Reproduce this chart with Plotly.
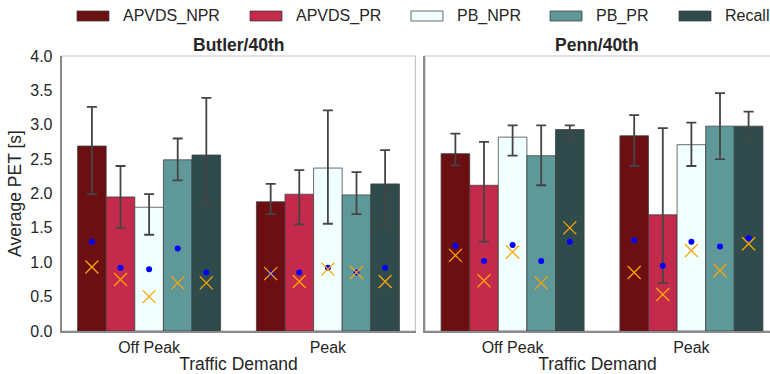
import plotly.graph_objects as go
import numpy as np

# ---------------- data ----------------
categories = ["Off Peak", "Peak"]
series = ["APVDS_NPR", "APVDS_PR", "PB_NPR", "PB_PR", "Recall"]
panels = ["Butler/40th", "Penn/40th"]

# Butler/40th  (rows: series, cols: categories)
butler_mean = [[2.69, 1.88], [1.95, 1.99], [1.80, 2.37], [2.49, 1.98], [2.56, 2.14]]
butler_hi = [[3.26, 2.14], [2.40, 2.34], [1.99, 3.21], [2.80, 2.31], [3.39, 2.63]]
butler_lo = [[1.99, 1.70], [1.50, 1.55], [1.40, 1.56], [2.19, 1.70], [1.86, 1.55]]
butler_dot = [[1.30, 0.835], [0.92, 0.85], [0.90, 0.92], [1.20, 0.85], [0.85, 0.92]]
butler_x = [[0.93, 0.835], [0.75, 0.72], [0.50, 0.90], [0.70, 0.85], [0.70, 0.72]]

# Penn/40th
penn_mean = [[2.58, 2.84], [2.12, 1.69], [2.82, 2.71], [2.55, 2.98], [2.93, 2.98]]
penn_hi = [[2.87, 3.14], [2.75, 2.95], [2.99, 3.03], [2.99, 3.46], [2.99, 3.19]]
penn_lo = [[2.41, 2.40], [1.30, 0.70], [2.55, 2.40], [2.12, 2.50], [2.79, 2.79]]
penn_dot = [[1.24, 1.32], [1.02, 0.95], [1.25, 1.30], [1.02, 1.23], [1.30, 1.35]]
penn_x = [[1.10, 0.85], [0.73, 0.53], [1.15, 1.17], [0.70, 0.88], [1.50, 1.27]]

y_ticks = [0.0, 0.5, 1.0, 1.5, 2.0, 2.5, 3.0, 3.5, 4.0]

# ---------------- styles ----------------
colors = ["#6C0F12", "#C42A4B", "#F0FFFF", "#5F9898", "#304B4B"]
TXT = "#262626"
FONT = "Liberation Sans, Arial, sans-serif"
W, H = 770, 374

def px_x(p):
    return p / W

def px_y(p):
    return 1 - p / H

fig = go.Figure()

group_width = 0.8
bw = group_width / len(series)
cat_pos = np.arange(len(categories))

panel_data = [
    (butler_mean, butler_hi, butler_lo, butler_dot, butler_x, "x", "y"),
    (penn_mean, penn_hi, penn_lo, penn_dot, penn_x, "x2", "y2"),
]

for mean, hi, lo, dot, xm, xa, ya in panel_data:
    for i, name in enumerate(series):
        xs = cat_pos + (i - (len(series) - 1) / 2) * bw
        m = np.array(mean[i])
        fig.add_trace(go.Bar(
            x=xs, y=m, width=bw, name=name, showlegend=False,
            marker=dict(color=colors[i], line=dict(color="rgba(60,60,60,0.75)", width=1)),
            error_y=dict(type="data", symmetric=False,
                         array=np.array(hi[i]) - m, arrayminus=m - np.array(lo[i]),
                         color="#444444", thickness=1.8, width=5),
            xaxis=xa, yaxis=ya,
        ))
    for i, name in enumerate(series):
        xs = cat_pos + (i - (len(series) - 1) / 2) * bw
        fig.add_trace(go.Scatter(
            x=xs, y=dot[i], mode="markers", showlegend=False,
            marker=dict(color="#0000FF", size=6, symbol="circle"),
            xaxis=xa, yaxis=ya, hoverinfo="y",
        ))
        fig.add_trace(go.Scatter(
            x=xs, y=xm[i], mode="markers", showlegend=False,
            marker=dict(color="orange", size=13, symbol="x-thin",
                        line=dict(color="orange", width=1.3)),
            xaxis=xa, yaxis=ya, hoverinfo="y",
        ))

# geometry (px)
L1, R1, L2, R2 = 61.5, 415.5, 425, 770
TOP, BOT = 56, 331
ppu = (R1 - L1) / 1.98
xr1 = [-0.49, 1.49]
xr2 = [-0.49, -0.49 + (R2 - L2) / ppu]

axis_common = dict(
    showgrid=False, zeroline=False, showline=True, linecolor="#8a8a8a", linewidth=1.6,
    tickfont=dict(family=FONT, size=16, color=TXT), automargin=False,
)
title_font = dict(family=FONT, size=17.5, color=TXT)

fig.update_layout(
    width=W, height=H, margin=dict(l=0, r=0, t=0, b=0),
    paper_bgcolor="white", plot_bgcolor="white", barmode="overlay",
    showlegend=False, font=dict(family=FONT, color=TXT),
    xaxis=dict(domain=[px_x(L1), px_x(R1)], range=xr1, anchor="y",
               tickvals=list(cat_pos), ticktext=categories,
               ticks="outside", ticklen=1, tickcolor="rgba(0,0,0,0)",
               title=dict(text="Traffic Demand", font=title_font, standoff=0),
               **axis_common),
    yaxis=dict(domain=[px_y(BOT), px_y(TOP)], range=[0, 4], anchor="x",
               tickvals=y_ticks, tickformat=".1f",
               ticks="outside", ticklen=4, tickcolor="rgba(0,0,0,0)",
               title=dict(text="Average PET [s]", font=title_font, standoff=4),
               **axis_common),
    xaxis2=dict(domain=[px_x(L2), 1], range=xr2, anchor="y2",
                tickvals=list(cat_pos), ticktext=categories,
                ticks="outside", ticklen=1, tickcolor="rgba(0,0,0,0)",
                title=dict(text="Traffic Demand", font=title_font, standoff=0),
                **axis_common),
    yaxis2=dict(domain=[px_y(BOT), px_y(TOP)], range=[0, 4], anchor="x2",
                tickvals=y_ticks, showticklabels=False, ticks="",
                **axis_common),
)

# light frame (top/right spines)
for l, r in [(L1, R1), (L2, R2 + 5)]:
    fig.add_shape(type="rect", xref="paper", yref="paper",
                  x0=px_x(l), x1=px_x(r), y0=px_y(BOT), y1=px_y(TOP),
                  line=dict(color="#c4c4c4", width=1.2), fillcolor="rgba(0,0,0,0)", layer="below")

# panel titles
for name, (l, r) in zip(panels, [(L1, R1), (L2, 768)]):
    fig.add_annotation(text="<b>%s</b>" % name, xref="paper", yref="paper",
                       x=px_x((l + r) / 2), y=px_y(45), xanchor="center", yanchor="middle",
                       showarrow=False, font=dict(family=FONT, size=17.5, color=TXT))

# legend (custom swatches + labels)
leg_x = [77, 250, 411, 550, 679]
sw_w = 32
for i, name in enumerate(series):
    x0 = leg_x[i]
    fig.add_shape(type="rect", xref="paper", yref="paper",
                  x0=px_x(x0), x1=px_x(x0 + sw_w), y0=px_y(21), y1=px_y(11),
                  line=dict(color="rgba(60,60,60,0.75)", width=1), fillcolor=colors[i])
    fig.add_annotation(text=name, xref="paper", yref="paper",
                       x=px_x(x0 + sw_w + 12), y=px_y(16), xanchor="left", yanchor="middle",
                       showarrow=False, font=dict(family=FONT, size=16, color=TXT))

fig.write_html("out.html", config={"displayModeBar": False},
               post_script="document.body.style.margin='0';")
